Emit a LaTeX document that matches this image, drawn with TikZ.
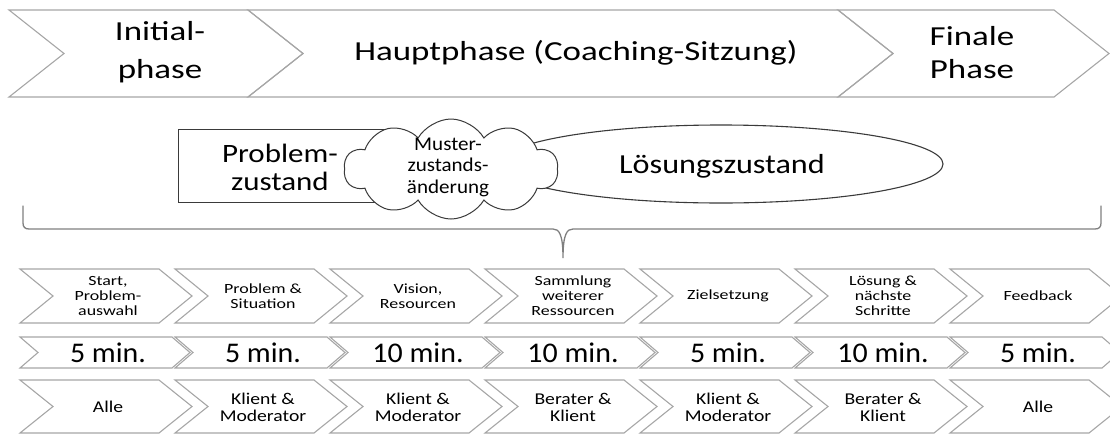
\documentclass[tikz,border=0pt]{standalone}
\usepackage{fontspec}
\setmainfont{Carlito}
\newfontfamily\topf{Carlito}[FakeStretch=1.27]
\newfontfamily\midf{Carlito}[FakeStretch=1.17]
\newfontfamily\cloudf{Carlito}[FakeStretch=1.08]
\newfontfamily\rowaf{Carlito}[FakeStretch=1.28]
\newfontfamily\rowbf{Carlito}[FakeStretch=1.05]
\newfontfamily\rowcf{Carlito}[FakeStretch=1.19]
\usetikzlibrary{shapes.geometric,shapes.symbols}
\definecolor{chevgray}{HTML}{A6A6A6}
\definecolor{bracegray}{HTML}{7F7F7F}
\definecolor{darkline}{HTML}{3A3A3A}
\newcommand\chevron[5]{%
  \draw[chevline] (#1,#2) -- ++(#3,0) -- ++(#5,#4/2) -- ++(-#5,#4/2) -- ++(-#3,0) -- ++(#5,-#4/2) -- cycle;}
\tikzset{
  chevline/.style={draw=chevgray, line width=1.1pt, line join=miter},
  toptext/.style={font=\topf\fontsize{27.5}{38}\selectfont, align=center, inner sep=0pt},
  midtext/.style={font=\midf\fontsize{26.5}{28}\selectfont, align=center, inner sep=0pt},
  cloudtext/.style={font=\cloudf\fontsize{19.5}{21.5}\selectfont, align=center, inner sep=0pt},
  rowatext/.style={font=\rowaf\fontsize{14}{15}\selectfont, align=center, inner sep=0pt},
  rowbtext/.style={font=\rowbf\fontsize{28.5}{30}\selectfont, align=center, inner sep=0pt},
  rowctext/.style={font=\rowcf\fontsize{16.5}{17}\selectfont, align=center, inner sep=0pt},
  statebox/.style={draw=darkline, line width=1pt},
}
\begin{document}
\begin{tikzpicture}[x=1pt,y=-1pt]
\useasboundingbox (0,0) rectangle (1110,434);
% top phases
\chevron{9}{10}{239}{87}{55}
\chevron{248}{10}{590}{87}{55}
\chevron{838}{10}{216}{87}{55}
\node[toptext] (init) at (160,52) {Initial-\\phase};
\node[toptext] (haupt) at (576,53) {Hauptphase (Coaching-Sitzung)};
\node[toptext, font=\topf\fontsize{27.5}{33}\selectfont] (final) at (972,53) {Finale\\Phase};
% states
\draw[statebox] (178,129) rectangle (400,202);
\node[midtext] (prob) at (280,167) {Problem-\\zustand};
\node[ellipse, draw=darkline, line width=1.1pt, minimum width=444, minimum height=78, inner sep=0pt] (loes) at (721,164) {};
\node[midtext, font=\midf\fontsize{27.5}{28}\selectfont] (loestext) at (722,166) {Lösungszustand};
\node[cloud, draw=darkline, line width=1pt, fill=white, cloud puffs=10, cloud puff arc=120, aspect=2.2, minimum width=214, minimum height=100, inner sep=0pt] (cl) at (451,169) {};
\node[cloudtext] (cltext) at (448,167) {Muster-\\zustands-\\änderung};
% brace
\coordinate (bl) at (23,206);
\coordinate (br) at (1101,206);
\coordinate (btip) at (563,258);
\draw[bracegray, line width=1.3pt, line cap=round]
  (bl) -- (23,223) .. controls (23,227) and (25,229) .. (29,229)
  -- (553,229) .. controls (559,229) and (563,234) .. (btip)
  .. controls (563,234) and (567,229) .. (573,229)
  -- (1095,229) .. controls (1099,229) and (1101,227) .. (1101,223) -- (br);
% rows
\foreach \i/\ta/\tb/\tc in {
 0/{Start,\\Problem-\\auswahl}/{5 min.}/{Alle},
 1/{Problem \&\\Situation}/{5 min.}/{Klient \&\\Moderator},
 2/{Vision,\\Resourcen}/{10 min.}/{Klient \&\\Moderator},
 3/{Sammlung\\weiterer\\Ressourcen}/{10 min.}/{Berater \&\\Klient},
 4/{Zielsetzung}/{5 min.}/{Klient \&\\Moderator},
 5/{Lösung \&\\nächste\\Schritte}/{10 min.}/{Berater \&\\Klient},
 6/{Feedback}/{5 min.}/{Alle}}
{
  \pgfmathsetmacro\L{20+155*\i}
  \pgfmathsetmacro\C{\L+88}
  \chevron{\L}{269}{139}{54}{33}
  \chevron{\L}{337}{152}{31}{18}
  \chevron{\L}{380}{139}{53}{33}
  \node[rowatext] (a\i) at (\C,296) {\ta};
  \node[rowbtext] (b\i) at (\C,353) {\tb};
  \node[rowctext] (c\i) at (\C,407) {\tc};
}
\end{tikzpicture}
\end{document}
